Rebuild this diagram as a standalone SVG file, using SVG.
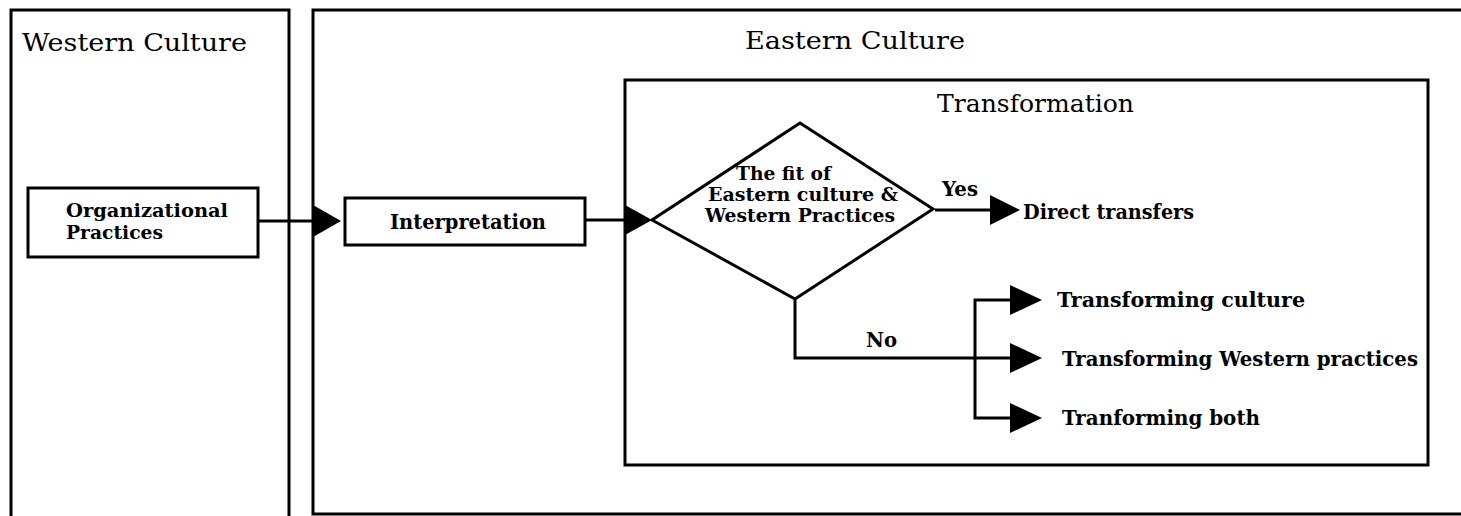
<svg xmlns="http://www.w3.org/2000/svg" width="1461" height="516" viewBox="0 0 1461 516">
<style>
.frame{fill:none;stroke:#000;stroke-width:3}
.box{fill:#fff;stroke:#000;stroke-width:3}
.ln{fill:none;stroke:#000;stroke-width:3}
.hd{fill:#000;stroke:none}
.title{font-family:"DejaVu Serif","Liberation Serif",serif;font-size:25px;fill:#000}
.lbl{font-family:"DejaVu Serif","Liberation Serif",serif;font-size:20px;font-weight:bold;fill:#000}
.stk{font-size:18px}
</style>
<rect width="1461" height="516" fill="#fff"/>
<g id="western-culture">
<polyline class="frame" points="11,520 11,10 289,10 289,520"/>
<text class="title" x="22" y="51" textLength="225" lengthAdjust="spacingAndGlyphs">Western Culture</text>
</g>
<g id="eastern-culture">
<polyline class="frame" points="1465,10 313,10 313,514 1465,514"/>
<text class="title" x="745" y="49" textLength="220" lengthAdjust="spacingAndGlyphs">Eastern Culture</text>
</g>
<g id="transformation">
<rect class="frame" x="625" y="80" width="803" height="385"/>
<text class="title" x="937" y="112" textLength="197" lengthAdjust="spacingAndGlyphs">Transformation</text>
</g>
<g id="organizational-practices">
<rect class="box" x="28" y="188" width="230" height="69"/>
<text class="lbl stk" x="66" y="217" textLength="162" lengthAdjust="spacingAndGlyphs">Organizational</text>
<text class="lbl stk" x="66" y="239" textLength="97" lengthAdjust="spacingAndGlyphs">Practices</text>
</g>
<g id="interpretation">
<rect class="box" x="345" y="198" width="240" height="47"/>
<text class="lbl" x="390" y="229" textLength="156" lengthAdjust="spacingAndGlyphs">Interpretation</text>
</g>
<g id="fit-decision">
<polygon class="box" points="800,123 933,209 795,299 652,220"/>
<text class="lbl stk" x="736" y="180" textLength="95" lengthAdjust="spacingAndGlyphs">The fit of</text>
<text class="lbl stk" x="708" y="201" textLength="190" lengthAdjust="spacingAndGlyphs">Eastern culture &amp;</text>
<text class="lbl stk" x="705" y="222" textLength="190" lengthAdjust="spacingAndGlyphs">Western Practices</text>
</g>
<g id="direct-transfers">
<text class="lbl" x="1023" y="219" textLength="171" lengthAdjust="spacingAndGlyphs">Direct transfers</text>
</g>
<g id="transforming-culture">
<text class="lbl" x="1057" y="307" textLength="248" lengthAdjust="spacingAndGlyphs">Transforming culture</text>
</g>
<g id="transforming-western-practices">
<text class="lbl" x="1062" y="366" textLength="356" lengthAdjust="spacingAndGlyphs">Transforming Western practices</text>
</g>
<g id="transforming-both">
<text class="lbl" x="1062" y="425" textLength="198" lengthAdjust="spacingAndGlyphs">Tranforming both</text>
</g>
<g id="connectors">
<line class="ln" x1="258" y1="221" x2="315" y2="221"/>
<polygon class="hd" points="313,205 341,221 313,237"/>
<line class="ln" x1="585" y1="220" x2="627" y2="220"/>
<polygon class="hd" points="625,205 652,220 625,235"/>
<line class="ln" x1="935" y1="210" x2="992" y2="210"/>
<polygon class="hd" points="990,195 1020,210 990,225"/>
<text class="lbl" x="942" y="196" textLength="36" lengthAdjust="spacingAndGlyphs">Yes</text>
<polyline class="ln" points="795,299 795,358 1012,358"/>
<text class="lbl" x="866" y="347" textLength="31" lengthAdjust="spacingAndGlyphs">No</text>
<polyline class="ln" points="1012,300 975,300 975,418 1012,418"/>
<polygon class="hd" points="1010,285 1042,300 1010,315"/>
<polygon class="hd" points="1010,343 1042,358 1010,373"/>
<polygon class="hd" points="1010,403 1042,418 1010,433"/>
</g>
</svg>
